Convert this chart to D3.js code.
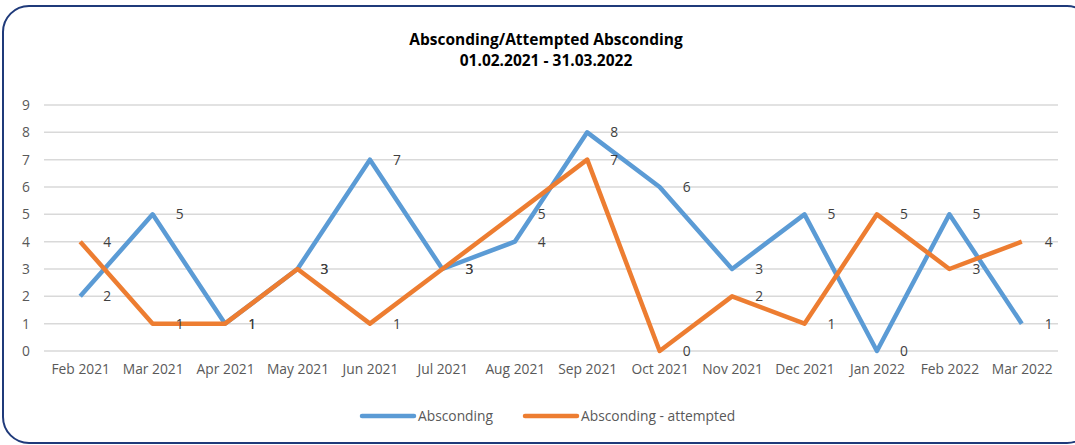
<!DOCTYPE html>
<html>
<head>
<meta charset="utf-8">
<script src="https://cdn.jsdelivr.net/npm/d3@7"></script>
<style>
  body { margin: 0; background: #fff; }
  text { font-family: "Open Sans", "Noto Sans", sans-serif; }
</style>
</head>
<body>
<div id="chart"></div>
<script>
const months = ["Feb 2021","Mar 2021","Apr 2021","May 2021","Jun 2021","Jul 2021","Aug 2021","Sep 2021","Oct 2021","Nov 2021","Dec 2021","Jan 2022","Feb 2022","Mar 2022"];
const absconding = [2,5,1,3,7,3,4,8,6,3,5,0,5,1];
const attempted = [4,1,1,3,1,3,5,7,0,2,1,5,3,4];
const yTicks = [0,1,2,3,4,5,6,7,8,9];
const seriesNames = ["Absconding","Absconding - attempted"];
const colors = ["#5b9bd5","#ed7d31"];

const W = 1075, H = 445;
const margin = { top: 105, bottom: 94, left: 44, right: 17 };
const width = W - margin.left - margin.right;
const height = H - margin.top - margin.bottom;

const svg = d3.select("#chart").append("svg")
    .attr("width", W)
    .attr("height", H);

// frame
svg.append("rect")
    .attr("x", 3).attr("y", 6)
    .attr("width", 1090).attr("height", 437)
    .attr("rx", 26).attr("ry", 26)
    .attr("fill", "#fff")
    .attr("stroke", "#1f3a7a")
    .attr("stroke-width", 2);

// title
const title = svg.append("text")
    .attr("text-anchor", "middle")
    .attr("font-weight", "bold")
    .attr("font-size", 15.5)
    .attr("fill", "#000");
title.append("tspan").attr("x", 546).attr("y", 45).text("Absconding/Attempted Absconding");
title.append("tspan").attr("x", 546).attr("y", 66).text("01.02.2021 - 31.03.2022");

const canvas = svg.append("g")
    .attr("transform", `translate(${margin.left},${margin.top})`);

const xScale = d3.scalePoint()
    .domain(months)
    .range([0, width])
    .padding(0.5);

const yScale = d3.scaleLinear()
    .domain([0, 9])
    .range([height, 0]);

// gridlines
canvas.append("g")
    .selectAll("line")
    .data(yTicks)
    .enter().append("line")
    .attr("x1", 0).attr("x2", width)
    .attr("y1", d => yScale(d)).attr("y2", d => yScale(d))
    .attr("stroke", "#d9d9d9")
    .attr("stroke-width", 1.5);

// axes
const yAxis = canvas.append("g")
    .call(d3.axisLeft(yScale).tickValues(yTicks).tickSize(0).tickPadding(14));
yAxis.select(".domain").remove();
yAxis.selectAll("text").attr("font-size", 13.8).attr("fill", "#595959")
    .style("font-family", "'Open Sans', sans-serif");

const xAxis = canvas.append("g")
    .attr("transform", `translate(0,${height})`)
    .call(d3.axisBottom(xScale).tickSize(0).tickPadding(13));
xAxis.select(".domain").remove();
xAxis.selectAll("text").attr("font-size", 13.8).attr("fill", "#595959")
    .style("font-family", "'Open Sans', sans-serif");

const line = d3.line()
    .x((d, i) => xScale(months[i]))
    .y(d => yScale(d));

[absconding, attempted].forEach(function (vals, k) {
    canvas.append("path")
        .datum(vals)
        .attr("fill", "none")
        .attr("stroke", colors[k])
        .attr("stroke-width", 4.5)
        .attr("stroke-linejoin", "round")
        .attr("d", line);
});

[absconding, attempted].forEach(function (vals) {
    canvas.append("g")
        .selectAll("text")
        .data(vals)
        .enter().append("text")
        .attr("x", (d, i) => xScale(months[i]) + 27)
        .attr("y", d => yScale(d) + 5)
        .attr("text-anchor", "middle")
        .attr("font-size", 13.8)
        .attr("fill", "#404040")
        .text(d => d);
});

// legend
const legend = svg.append("g");
const legendX = [362, 525];
seriesNames.forEach(function (name, i) {
    legend.append("line")
        .attr("x1", legendX[i]).attr("x2", legendX[i] + 52)
        .attr("y1", 416).attr("y2", 416)
        .attr("stroke", colors[i])
        .attr("stroke-width", 4.5)
        .attr("stroke-linecap", "round");
    legend.append("text")
        .attr("x", legendX[i] + 56)
        .attr("y", 421)
        .attr("font-size", 13.8)
        .attr("fill", "#595959")
        .text(name);
});
</script>
</body>
</html>
